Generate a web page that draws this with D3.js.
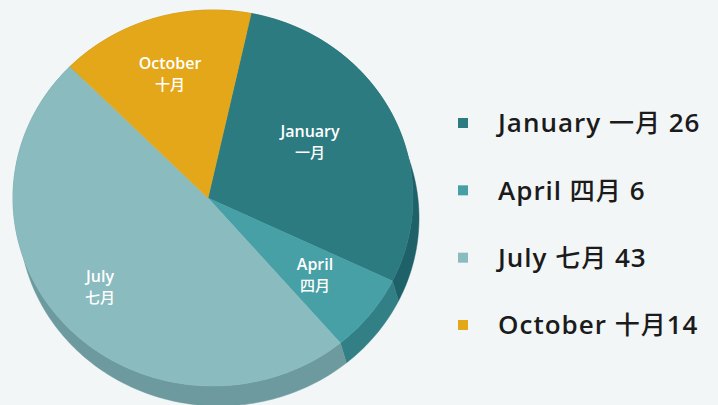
<!DOCTYPE html>
<html><head><meta charset="utf-8">
<script src="https://cdn.jsdelivr.net/npm/d3@7"></script>
<style>
html,body{margin:0;padding:0;background:#f2f6f7;}
svg{display:block;}
</style></head>
<body><svg id="chart" width="718" height="405"></svg>
<script>
const categories = ["January", "April", "July", "October"];
const chineseNames = ["一月", "四月", "七月", "十月"];
const values = [26, 6, 43, 14];
const topColors = ["#2b7b81", "#47a0a5", "#89bbbf", "#e3a719"];
const sideColors = ["#1e6168", "#327f85", "#6c9a9e", "#b8860f"];

const svg = d3.select("#chart");
const W = 718, H = 405;
svg.append("rect").attr("width", W).attr("height", H).attr("fill", "#f2f6f7");

const cx = 213, cy = 198, rx = 200, ry = 188;
const apex = [208, 198];
const depthX = 6, depthY = 20;

const data = categories.map((c, i) => ({name: c, zh: chineseNames[i], value: values[i], i}));
const pie = d3.pie().value(d => d.value).sort(null)
  .startAngle(11 * Math.PI / 180).endAngle((360 + 11) * Math.PI / 180);
const arcs = pie(data);

function pt(a, ox = 0, oy = 0) {
  return [cx + rx * Math.sin(a) + ox, cy - ry * Math.cos(a) + oy];
}
function arcPts(a0, a1, ox = 0, oy = 0) {
  const n = Math.max(2, Math.ceil((a1 - a0) / 0.02));
  return d3.range(n + 1).map(k => pt(a0 + (a1 - a0) * k / n, ox, oy));
}
const line = d3.line();

// side walls
const gSide = svg.append("g");
arcs.forEach(d => {
  const top = arcPts(d.startAngle, d.endAngle);
  const bot = arcPts(d.startAngle, d.endAngle, depthX, depthY).reverse();
  gSide.append("path")
    .attr("d", line(top.concat(bot)) + "Z")
    .attr("fill", sideColors[d.data.i])
    .attr("stroke", sideColors[d.data.i]).attr("stroke-width", 0.5);
});

// top surfaces
const gTop = svg.append("g");
arcs.forEach(d => {
  const pts = [apex].concat(arcPts(d.startAngle, d.endAngle));
  gTop.append("path")
    .attr("d", line(pts) + "Z")
    .attr("fill", topColors[d.data.i])
    .attr("stroke", topColors[d.data.i]).attr("stroke-width", 0.5);
});

// slice labels
const labelPos = [[310, 137], [315, 270], [100, 282], [170, 69]];
const gLab = svg.append("g").attr("font-family", "'Open Sans', 'Noto Sans CJK SC', sans-serif")
  .attr("fill", "#ffffff").attr("font-size", 16).attr("font-weight", 600).attr("text-anchor", "middle");
arcs.forEach(d => {
  const p = labelPos[d.data.i];
  const t = gLab.append("text").attr("x", p[0]).attr("y", p[1]);
  t.append("tspan").attr("x", p[0]).attr("dy", 0).text(d.data.name);
  t.append("tspan").attr("x", p[0]).attr("dy", 21).attr("font-size", 15).attr("font-weight", 500).text(d.data.zh);
});

// legend
const legendY = d3.scalePoint().domain(categories).range([123, 325]);
const gLeg = svg.append("g").attr("font-family", "'Open Sans', 'Noto Sans CJK SC', sans-serif");
data.forEach(d => {
  const y = legendY(d.name);
  gLeg.append("rect").attr("x", 458).attr("y", y - 5).attr("width", 10).attr("height", 10)
    .attr("fill", topColors[d.i]);
  const sep = d.name === "October" ? "" : " ";
  const t = gLeg.append("text").attr("x", 498).attr("y", y).attr("dy", "0.36em")
    .attr("font-size", 26).attr("font-weight", 600).attr("fill", "#1b1b1b")
    .attr("letter-spacing", 1);
  t.append("tspan").text(d.name + " ");
  t.append("tspan").attr("font-weight", 500).attr("font-size", 25).text(d.zh);
  t.append("tspan").text(sep + d.value);
});
</script></body></html>
